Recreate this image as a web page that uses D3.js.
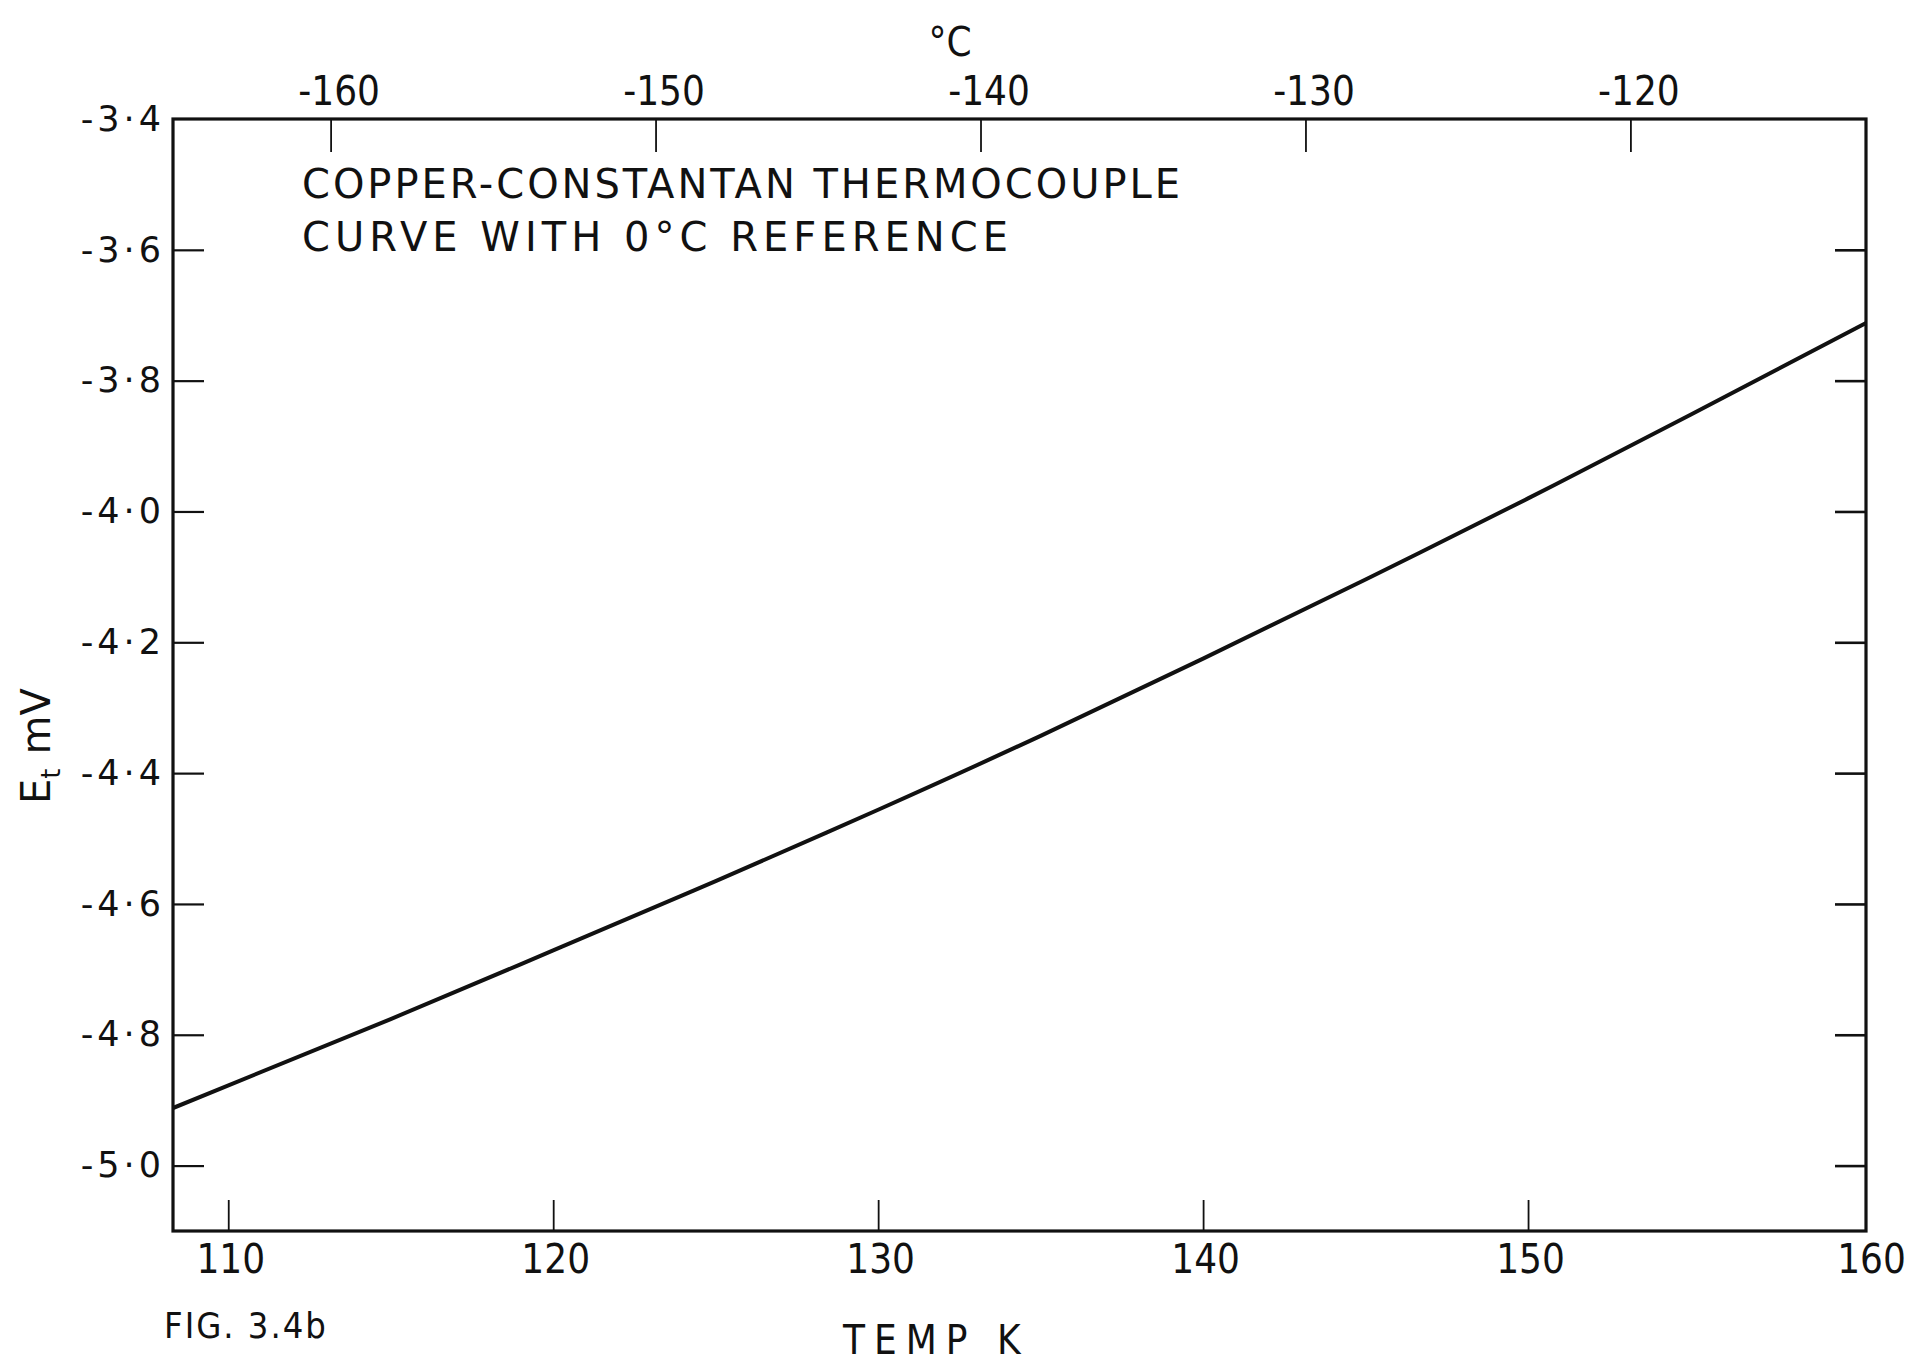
<!DOCTYPE html>
<html>
<head>
<meta charset="utf-8">
<script src="https://cdn.jsdelivr.net/npm/d3@7/dist/d3.min.js"></script>
<style>
  html, body { margin: 0; padding: 0; background: #ffffff; }
  svg { display: block; }
  text { fill: #111; }
</style>
</head>
<body>
<svg id="chart" width="1928" height="1367"></svg>
<script>
// ---- data ----
const tempK = [108.3, 115, 120, 125, 130, 135, 140, 145, 150, 155, 160.4];
const emfMV = [-4.912, -4.776, -4.671, -4.565, -4.456, -4.343, -4.225, -4.104, -3.980, -3.852, -3.712];
const kelvinTicks = [110, 120, 130, 140, 150, 160];
const celsiusTicks = [-160, -150, -140, -130, -120];
const emfTicks = [-3.4, -3.6, -3.8, -4.0, -4.2, -4.4, -4.6, -4.8, -5.0];
const titleLines = ["COPPER-CONSTANTAN THERMOCOUPLE", "CURVE WITH 0°C REFERENCE"];
const kelvinOffset = 273.15;

// ---- layout ----
const W = 1928, H = 1367;
const frame = { left: 173, right: 1866, top: 119, bottom: 1231 };
const xDomain = [108.3, 160.4];
const yDomain = [-5.1, -3.4];
const narrow = "'Liberation Sans Narrow', 'DejaVu Sans Condensed', 'DejaVu Sans', sans-serif";
const wide = "'DejaVu Sans', 'Liberation Sans', sans-serif";

const svg = d3.select("#chart");

const x = d3.scaleLinear().domain(xDomain).range([frame.left, frame.right]);
const xC = d3.scaleLinear().domain(xDomain.map(k => k - kelvinOffset)).range([frame.left, frame.right]);
const y = d3.scaleLinear().domain(yDomain).range([frame.bottom, frame.top]);

const fmtY = d => d.toFixed(1).replace(".", "·").replace("−", "-");
const fmtInt = d => String(d).replace("−", "-");

const tickLen = 31;

svg.append("clipPath").attr("id", "plotClip").append("rect")
  .attr("x", frame.left).attr("y", frame.top)
  .attr("width", frame.right - frame.left).attr("height", frame.bottom - frame.top);

// left axis (ticks inward)
const gL = svg.append("g").attr("transform", `translate(${frame.left},0)`)
  .call(d3.axisLeft(y).tickValues(emfTicks).tickSizeInner(-tickLen).tickSizeOuter(0).tickPadding(12).tickFormat(fmtY));
gL.select(".domain").remove();
gL.selectAll(".tick line").attr("stroke", "#111").attr("stroke-width", 2.2)
  .attr("opacity", d => d === -3.4 ? 0 : 1);
gL.selectAll(".tick text").attr("font-family", wide).attr("font-size", 35)
  .attr("letter-spacing", 4).attr("fill", "#111").attr("dx", 4);

// right axis (ticks inward, no labels)
const gR = svg.append("g").attr("transform", `translate(${frame.right},0)`)
  .call(d3.axisRight(y).tickValues(emfTicks.filter(d => d !== -3.4)).tickSizeInner(-tickLen).tickSizeOuter(0).tickFormat(""));
gR.select(".domain").remove();
gR.selectAll(".tick line").attr("stroke", "#111").attr("stroke-width", 2.6);

// bottom axis (Kelvin)
const gB = svg.append("g").attr("transform", `translate(0,${frame.bottom})`)
  .call(d3.axisBottom(x).tickValues(kelvinTicks).tickSizeInner(-tickLen).tickSizeOuter(0).tickPadding(14).tickFormat(fmtInt));
gB.select(".domain").remove();
gB.selectAll(".tick line").attr("stroke", "#111").attr("stroke-width", 1.8)
  .attr("opacity", d => d === 160 ? 0 : 1);
gB.selectAll(".tick text").attr("font-family", narrow).attr("font-size", 40).attr("fill", "#111")
  .attr("dx", d => d === 160 ? 18 : 2);

// top axis (Celsius)
const gT = svg.append("g").attr("transform", `translate(0,${frame.top})`)
  .call(d3.axisTop(xC).tickValues(celsiusTicks).tickSizeInner(-33).tickSizeOuter(0).tickPadding(14).tickFormat(fmtInt));
gT.select(".domain").remove();
gT.selectAll(".tick line").attr("stroke", "#111").attr("stroke-width", 1.8);
gT.selectAll(".tick text").attr("font-family", narrow).attr("font-size", 40).attr("fill", "#111").attr("dx", 8);

// frame
svg.append("rect")
  .attr("x", frame.left).attr("y", frame.top)
  .attr("width", frame.right - frame.left).attr("height", frame.bottom - frame.top)
  .attr("fill", "none").attr("stroke", "#111").attr("stroke-width", 3.2);

// curve
const line = d3.line().x((d, i) => x(tempK[i])).y(d => y(d)).curve(d3.curveNatural);
svg.append("path").datum(emfMV)
  .attr("clip-path", "url(#plotClip)")
  .attr("d", line).attr("fill", "none").attr("stroke", "#111").attr("stroke-width", 4)
  .attr("stroke-linejoin", "round");

// title inside plot
svg.selectAll("text.title").data(titleLines).enter().append("text")
  .attr("class", "title")
  .attr("x", 302).attr("y", (d, i) => 198 + i * 53)
  .attr("font-family", wide).attr("font-size", 40)
  .attr("textLength", (d, i) => i === 0 ? 878 : 706).attr("lengthAdjust", "spacing")
  .text(d => d);

// °C unit label on top
svg.append("text").attr("x", 950).attr("y", 56).attr("text-anchor", "middle")
  .attr("font-family", narrow).attr("font-size", 40).text("°C");

// x axis title
svg.append("text").attr("x", 843).attr("y", 1354)
  .attr("font-family", narrow).attr("font-size", 40).attr("letter-spacing", 9).text("TEMP  K");

// figure label
svg.append("text").attr("x", 164).attr("y", 1338)
  .attr("font-family", narrow).attr("font-size", 36).attr("letter-spacing", 2).text("FIG. 3.4b");

// y axis title (E_t mV) rotated
const yt = svg.append("text").attr("transform", "translate(50,746) rotate(-90)")
  .attr("text-anchor", "middle").attr("font-family", wide).attr("font-size", 40);
yt.append("tspan").text("E");
yt.append("tspan").attr("font-size", 26).attr("dy", 10).text("t");
yt.append("tspan").attr("dy", -10).attr("dx", 14).text("mV");
</script>
</body>
</html>
